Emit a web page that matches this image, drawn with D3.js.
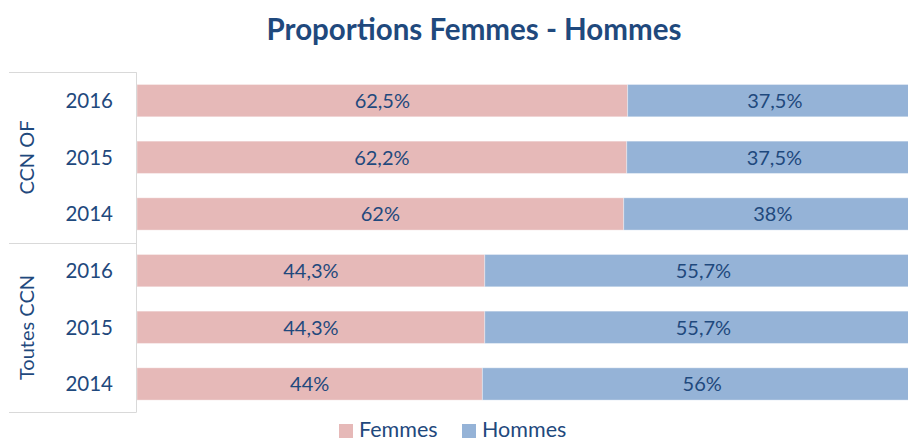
<!DOCTYPE html>
<html>
<head>
<meta charset="utf-8">
<script src="https://cdn.jsdelivr.net/npm/d3@7"></script>
<style>
  body { margin: 0; background: #fff; }
  text { font-family: Lato, "Open Sans", sans-serif; }
</style>
</head>
<body>
<script>
const groups = ['CCN OF', 'Toutes CCN'];
const years = ['2016', '2015', '2014'];
const femmes = [62.5, 62.2, 62, 44.3, 44.3, 44];
const hommes = [37.5, 37.5, 38, 55.7, 55.7, 56];
const femmesLabels = ['62,5%', '62,2%', '62%', '44,3%', '44,3%', '44%'];
const hommesLabels = ['37,5%', '37,5%', '38%', '55,7%', '55,7%', '56%'];
const series = ['Femmes', 'Hommes'];
const colors = ['#E6B9B8', '#95B3D7'];

function main() {
  const width = 908;
  const height = 442;
  const textColor = '#1F497D';
  const svg = d3.select('body').append('svg')
    .attr('width', width)
    .attr('height', height);

  const rows = [];
  groups.forEach((g, gi) => years.forEach((y, yi) => {
    const i = gi * years.length + yi;
    rows.push({
      key: g + '|' + y, group: g, year: y,
      Femmes: femmes[i], Hommes: hommes[i],
      labels: { Femmes: femmesLabels[i], Hommes: hommesLabels[i] },
    });
  }));

  const stack = d3.stack().keys(series).offset(d3.stackOffsetExpand);
  const stacked = stack(rows);

  // plot runs past the right edge, as in the cropped original
  const x = d3.scaleLinear().domain([0, 1]).range([137, 922]);
  const y = d3.scaleBand()
    .domain(rows.map(d => d.key))
    .range([72.3, 412.3])
    .paddingInner(0.43)
    .paddingOuter(0.215);

  svg.append('text')
    .attr('x', 474)
    .attr('y', 40)
    .attr('text-anchor', 'middle')
    .attr('font-size', 29.5)
    .attr('font-weight', 'bold')
    .attr('fill', textColor)
    .text('Proportions Femmes - Hommes');

  const layer = svg.append('g')
    .selectAll('g')
    .data(stacked)
    .enter()
    .append('g')
    .attr('fill', (d, i) => colors[i]);

  layer.selectAll('rect')
    .data(d => d.map(p => Object.assign(p, { series: d.key })))
    .enter()
    .append('rect')
    .attr('x', d => x(d[0]))
    .attr('width', d => x(d[1]) - x(d[0]))
    .attr('y', d => y(d.data.key))
    .attr('height', y.bandwidth())
    .attr('stroke', '#fff')
    .attr('stroke-opacity', 0.35)
    .attr('stroke-width', 1);

  layer.selectAll('text')
    .data(d => d)
    .enter()
    .append('text')
    .attr('x', d => (x(d[0]) + x(d[1])) / 2)
    .attr('y', d => y(d.data.key) + y.bandwidth() / 2)
    .attr('dy', '0.36em')
    .attr('text-anchor', 'middle')
    .attr('font-size', 20)
    .attr('fill', textColor)
    .text(d => d.data.labels[d.series]);

  // category axis: years, then group labels with separators
  const axisColor = '#D9D9D9';
  svg.append('line')
    .attr('x1', 136.5).attr('x2', 136.5)
    .attr('y1', 72.3).attr('y2', 412.3)
    .attr('stroke', axisColor);

  const edges = [72.3, 242.7, 412.3];
  svg.append('g')
    .selectAll('line')
    .data(edges)
    .enter()
    .append('line')
    .attr('x1', 9).attr('x2', 136.5)
    .attr('y1', d => Math.round(d) + 0.5)
    .attr('y2', d => Math.round(d) + 0.5)
    .attr('stroke', axisColor);

  svg.append('g')
    .selectAll('text')
    .data(rows)
    .enter()
    .append('text')
    .attr('x', 113)
    .attr('y', d => y(d.key) + y.bandwidth() / 2)
    .attr('dy', '0.36em')
    .attr('text-anchor', 'end')
    .attr('font-size', 20.5)
    .attr('fill', textColor)
    .text(d => d.year);

  svg.append('g')
    .selectAll('text')
    .data(groups)
    .enter()
    .append('text')
    .attr('transform', (d, i) => `translate(27,${(edges[i] + edges[i + 1]) / 2}) rotate(-90)`)
    .attr('dy', '0.36em')
    .attr('text-anchor', 'middle')
    .attr('font-size', 20)
    .attr('fill', textColor)
    .text(d => d);

  // legend
  const legendX = [339, 462];
  const legend = svg.append('g')
    .selectAll('g')
    .data(series)
    .enter()
    .append('g')
    .attr('transform', (d, i) => `translate(${legendX[i]},424)`);

  legend.append('rect')
    .attr('width', 14)
    .attr('height', 14)
    .attr('fill', (d, i) => colors[i]);

  legend.append('text')
    .attr('x', 20)
    .attr('y', 13)
    .attr('font-size', 21.5)
    .attr('fill', textColor)
    .text(d => d);
}

main();
</script>
</body>
</html>
